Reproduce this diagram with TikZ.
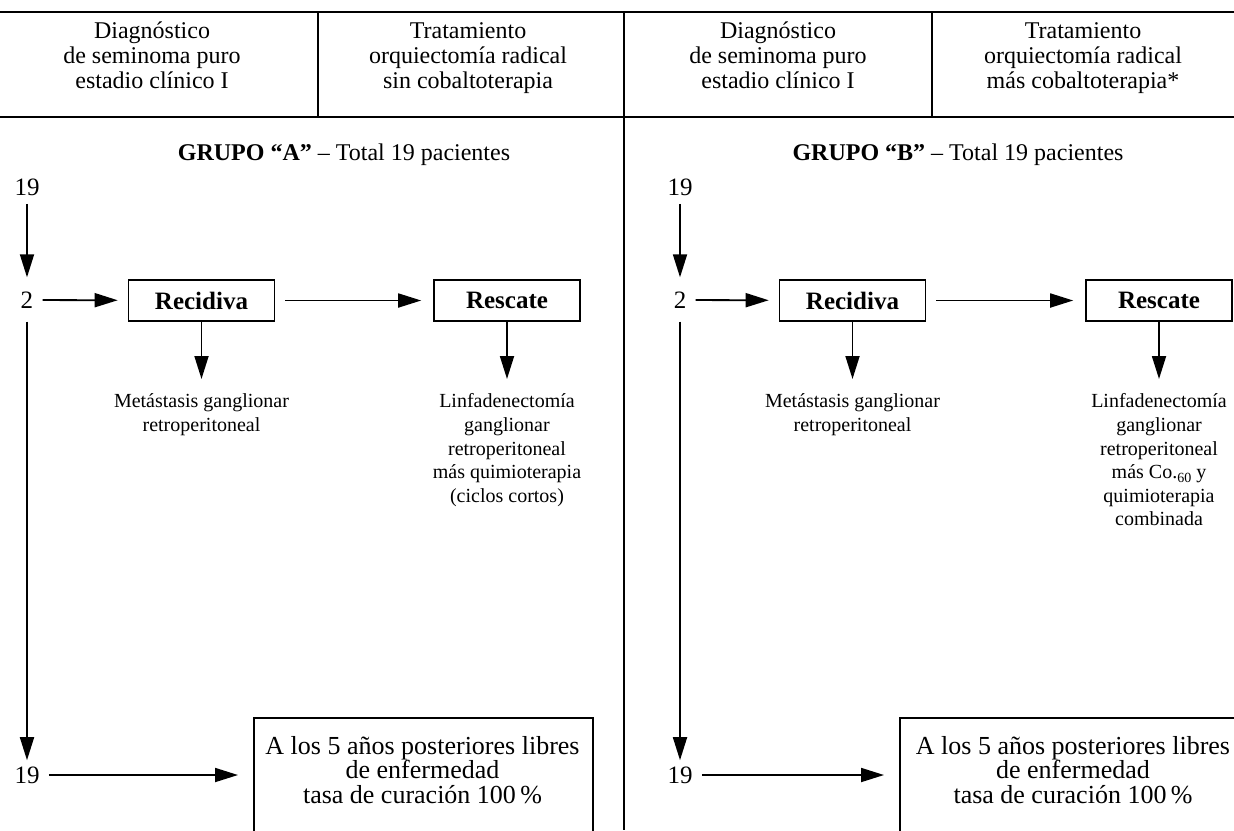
\documentclass[tikz,border=0pt]{standalone}
\usepackage{fontspec}
\setmainfont{Liberation Serif}
\usetikzlibrary{arrows.meta}
\begin{document}
\begin{tikzpicture}[x=0.5pt,y=-0.5pt,
 hdr/.style={align=center, font=\fontsize{12}{12.5}\selectfont, inner sep=0pt},
 ttl/.style={font=\fontsize{12}{14}\selectfont, inner sep=0pt},
 num/.style={font=\fontsize{12.5}{14}\selectfont, inner sep=2pt},
 stepbox/.style={draw, line width=0.8pt, minimum width=73pt, minimum height=20.5pt, font=\bfseries\fontsize{12.5}{14}\selectfont, inner sep=0pt},
 lbl/.style={align=center, font=\fontsize{10}{11.8}\selectfont, inner sep=0pt, anchor=north},
 endbox/.style={draw, line width=0.8pt, minimum height=75pt, anchor=north west, inner sep=0pt},
 endtxt/.style={align=center, font=\fontsize{13}{12.2}\selectfont, inner sep=0pt},
 arr/.style={-{Triangle[length=11.5pt,width=7pt]}, line width=0.9pt},
 rule/.style={line width=1pt},
 vrule/.style={line width=0.8pt}]
\useasboundingbox (0,0) rectangle (1234,830);
\fill[white] (0,0) rectangle (1234,830);
\clip (0,0) rectangle (1234,830);
% header rules
\draw[rule] (0,12) -- (1234,12);
\draw[rule] (0,117) -- (1234,117);
\draw[vrule] (318,12) -- (318,117);
\draw[vrule] (624,12) -- (624,830);
\draw[vrule] (932,12) -- (932,117);
% header texts
\node[hdr] (h1) at (152,58) {\strut Diagnóstico\\de seminoma puro\\estadio clínico I\strut};
\node[hdr] (h2) at (468,58) {\strut Tratamiento\\orquiectomía radical\\sin cobaltoterapia\strut};
\node[hdr] (h3) at (778,58) {\strut Diagnóstico\\de seminoma puro\\estadio clínico I\strut};
\node[hdr] (h4) at (1083,58) {\strut Tratamiento\\orquiectomía radical\\más cobaltoterapia*\strut};
% titles
\node[ttl] (ta) at (344,155) {\strut\textbf{GRUPO “A”} -- Total 19 pacientes};
\node[ttl] (tb) at (958,155) {\strut\textbf{GRUPO “B”} -- Total 19 pacientes};
% group A
\node[num] (a19) at (27,187) {19};
\node[num] (a2) at (27,300) {2};
\node[stepbox] (arec) at (201.5,300.5) {Recidiva};
\node[stepbox] (ares) at (507,300.5) {Rescate};
\node[lbl] (amet) at (201.5,391) {\strut Metástasis ganglionar\\retroperitoneal};
\node[lbl] (alin) at (507,391) {\strut Linfadenectomía\\ganglionar\\retroperitoneal\\más quimioterapia\\(ciclos cortos)};
\node[num] (a19b) at (27,775) {19};
\node[endbox, minimum width=169.5pt] (abox) at (253,717) {};
\node[endtxt] (atxt) at (422.5,770) {A los 5 años posteriores libres\\de enfermedad\\tasa de curación 100\,\%};
\draw[arr, shorten <=2pt, shorten >=5pt] (a19) -- (a2);
\draw[arr, shorten <=2.5pt, shorten >=5pt] (a2) -- (arec);
\draw[arr, shorten <=5pt, shorten >=6pt] (arec) -- (ares);
\draw[arr, shorten >=6pt] (arec) -- (amet);
\draw[arr, shorten >=6pt] (ares) -- (alin);
\draw[arr, shorten <=4.5pt, shorten >=1pt] (a2) -- (a19b);
\draw[arr, shorten <=2.5pt, shorten >=7.5pt] (a19b) -- (a19b -| abox.west);
% group B
\node[num] (b19) at (680,187) {19};
\node[num] (b2) at (680,300) {2};
\node[stepbox] (brec) at (852.5,300.5) {Recidiva};
\node[stepbox] (bres) at (1159,300.5) {Rescate};
\node[lbl] (bmet) at (852.5,391) {\strut Metástasis ganglionar\\retroperitoneal};
\node[lbl] (blin) at (1159,391) {\strut Linfadenectomía\\ganglionar\\retroperitoneal\\más Co.\raisebox{-0.45ex}{\scriptsize 60} y\\quimioterapia\\combinada};
\node[num] (b19b) at (680,775) {19};
\node[endbox, minimum width=172pt] (bbox) at (899,717) {};
\node[endtxt] (btxt) at (1073,770) {A los 5 años posteriores libres\\de enfermedad\\tasa de curación 100\,\%};
\draw[arr, shorten <=2pt, shorten >=5pt] (b19) -- (b2);
\draw[arr, shorten <=2.5pt, shorten >=5pt] (b2) -- (brec);
\draw[arr, shorten <=5pt, shorten >=6pt] (brec) -- (bres);
\draw[arr, shorten >=6pt] (brec) -- (bmet);
\draw[arr, shorten >=6pt] (bres) -- (blin);
\draw[arr, shorten <=4.5pt, shorten >=1pt] (b2) -- (b19b);
\draw[arr, shorten <=2.5pt, shorten >=7.5pt] (b19b) -- (b19b -| bbox.west);
\end{tikzpicture}
\end{document}
